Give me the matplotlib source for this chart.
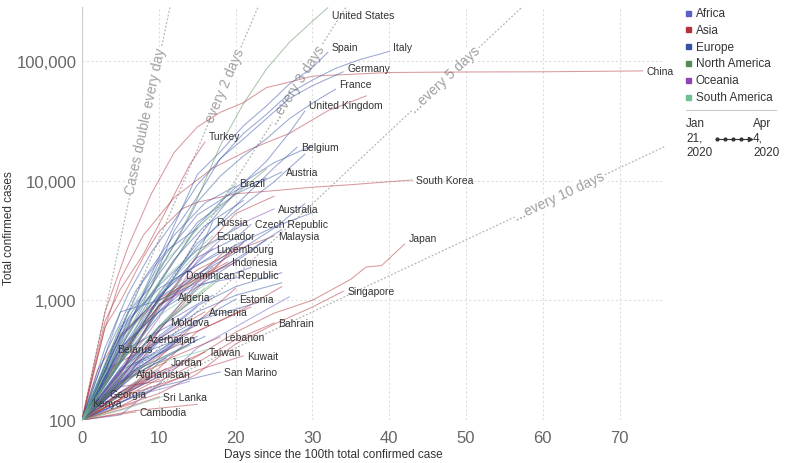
import numpy as np
import matplotlib
matplotlib.use("Agg")
import matplotlib.pyplot as plt
from matplotlib.patches import Rectangle
from matplotlib.lines import Line2D

plt.rcParams['font.family'] = ['Liberation Sans', 'DejaVu Sans']

continents = ["Africa", "Asia", "Europe", "North America", "Oceania", "South America"]
continent_colors = ["#5b5fc7", "#b1343c", "#3552a6", "#5a8a5a", "#8e45b3", "#6fbf92"]

# (label, days since the 100th case, total confirmed cases)
africa = [
    ("Kenya", [0, 1], [100, 133]),
    ("Algeria", [0, 5, 12], [100, 300, 1070]),
    (None, [0, 5, 10, 15, 21], [100, 240, 930, 1350, 1580]),
    (None, [0, 5, 10, 15, 20, 27], [100, 110, 200, 400, 600, 1070]),
    (None, [0, 5, 10, 15], [100, 230, 480, 880]),
    (None, [0, 6, 13], [100, 230, 500]),
    (None, [0, 6, 13], [100, 180, 300]),
    (None, [0, 5, 10], [100, 190, 550]),
    (None, [0, 7, 14], [100, 160, 210]),
    (None, [0, 4, 8], [100, 150, 205]),
    (None, [0, 5, 10], [100, 170, 260]),
    (None, [0, 3, 7], [100, 140, 210]),
    (None, [0, 4, 9], [100, 130, 190]),
    (None, [0, 3, 6], [100, 120, 150]),
]

asia = [
    ("China", [0, 3, 6, 9, 12, 15, 18, 21, 24, 27, 30, 40, 50, 60, 73],
     [100, 800, 2800, 7700, 17200, 28000, 37200, 44700, 59800, 66500, 74600, 80000, 80800, 81100, 82500]),
    ("South Korea", [0, 3, 5, 8, 10, 13, 15, 20, 25, 30, 35, 40, 43],
     [100, 600, 980, 2300, 3740, 5800, 6590, 7760, 8240, 8800, 9240, 9790, 10100]),
    ("Japan", [0, 5, 10, 15, 20, 25, 30, 35, 37, 39, 42],
     [100, 160, 230, 340, 540, 780, 1000, 1500, 1900, 1950, 2950]),
    ("Singapore", [0, 5, 10, 15, 20, 25, 30, 34], [100, 130, 166, 243, 432, 631, 879, 1189]),
    ("Turkey", [0, 3, 5, 8, 11, 14, 16], [100, 670, 1240, 2430, 5700, 13500, 21000]),
    ("Malaysia", [0, 5, 10, 15, 20, 25], [100, 240, 900, 1800, 2600, 3450]),
    ("Indonesia", [0, 5, 10, 15, 19], [100, 370, 890, 1530, 2090]),
    ("Armenia", [0, 5, 10, 16], [100, 200, 480, 800]),
    ("Azerbaijan", [0, 4, 8], [100, 270, 475]),
    ("Georgia", [0, 3], [100, 165]),
    ("Afghanistan", [0, 3, 6.5], [100, 150, 242]),
    ("Jordan", [0, 5, 11], [100, 210, 305]),
    ("Taiwan", [0, 5, 10, 16], [100, 150, 250, 370]),
    ("Kuwait", [0, 5, 10, 15, 21], [100, 130, 190, 260, 343]),
    ("Lebanon", [0, 5, 10, 18], [100, 150, 300, 494]),
    ("Bahrain", [0, 5, 10, 15, 20, 25], [100, 190, 210, 300, 470, 646]),
    ("Sri Lanka", [0, 5, 10], [100, 122, 156]),
    ("Cambodia", [0, 3, 7], [100, 107, 117]),
    (None, [0, 3, 5, 8, 12, 17, 22, 27, 32, 37],
     [100, 590, 1500, 3500, 7200, 12700, 18400, 24800, 38300, 51000]),
    (None, [0, 5, 10, 15, 20, 25], [100, 250, 880, 2370, 5300, 7400]),
    (None, [0, 3, 10, 15, 20, 26], [100, 260, 460, 550, 780, 1300]),
    (None, [0, 5, 10, 15, 20], [100, 340, 900, 1450, 2180]),
    (None, [0, 5, 10, 15, 20], [100, 150, 330, 660, 1260]),
    (None, [0, 5, 10, 15, 21], [100, 220, 550, 1420, 3020]),
    (None, [0, 5, 10, 15, 20], [100, 220, 560, 1250, 2900]),
    (None, [0, 5, 10, 15, 19], [100, 500, 990, 1600, 2700]),
    (None, [0, 5, 10, 15, 20], [100, 320, 1040, 1520, 2070]),
    (None, [0, 5, 10, 15, 22], [100, 170, 270, 550, 880]),
    (None, [0, 7, 14], [100, 170, 240]),
    (None, [0, 6, 13], [100, 230, 460]),
    (None, [0, 4, 9], [100, 150, 230]),
    (None, [0, 5, 11], [100, 170, 270]),
    (None, [0, 5, 10], [100, 150, 220]),
    (None, [0, 7], [100, 140]),
    (None, [0, 7, 15], [100, 120, 135]),
    (None, [0, 2, 5, 9], [100, 260, 520, 900]),
]

europe = [
    ("Italy", [0, 3, 6, 9, 12, 15, 18, 21, 24, 27, 30, 33, 36, 40],
     [100, 400, 1130, 2500, 4600, 9170, 15100, 24700, 35700, 53600, 69200, 86500, 101700, 120000]),
    ("Spain", [0, 3, 6, 9, 12, 15, 18, 21, 24, 27, 30, 32],
     [100, 230, 590, 1640, 4230, 11200, 17400, 28600, 42000, 64000, 87900, 118000]),
    ("Germany", [0, 3, 6, 9, 12, 15, 18, 21, 24, 27, 30, 34],
     [100, 260, 800, 1300, 3800, 7300, 15300, 22200, 32900, 48600, 62100, 81000]),
    ("France", [0, 3, 6, 9, 12, 15, 18, 21, 24, 27, 30, 33],
     [100, 210, 710, 1410, 2880, 6600, 10900, 16000, 22300, 32900, 44500, 58000]),
    ("United Kingdom", [0, 3, 6, 9, 12, 15, 18, 21, 24, 27, 29],
     [100, 210, 460, 800, 1540, 3270, 5680, 9530, 14500, 25100, 38000]),
    ("Belgium", [0, 5, 10, 15, 20, 25, 28], [100, 310, 1060, 2800, 6200, 12800, 19000]),
    ("Austria", [0, 5, 10, 15, 20, 26], [100, 500, 1650, 4470, 7700, 11800]),
    ("Russia", [0, 5, 10, 15, 17], [100, 250, 840, 2340, 4500]),
    ("Czech Republic", [0, 5, 10, 15, 20, 22], [100, 300, 1050, 2280, 3300, 4300]),
    ("Luxembourg", [0, 5, 10, 14, 17], [100, 480, 1100, 1800, 2700]),
    ("Estonia", [0, 5, 10, 15, 20], [100, 260, 370, 670, 1020]),
    ("Moldova", [0, 5, 11], [100, 260, 660]),
    ("Belarus", [0, 2, 4], [100, 150, 390]),
    ("San Marino", [0, 5, 10, 18], [100, 140, 190, 252]),
    (None, [0, 5, 10, 15, 20, 25, 29], [100, 380, 1140, 2990, 5560, 9760, 16600]),
    (None, [0, 5, 10, 15, 20, 25, 30], [100, 400, 1360, 4200, 8800, 14100, 19600]),
    (None, [0, 5, 10, 15, 20, 25, 29], [100, 500, 1060, 1640, 2500, 4000, 6400]),
    (None, [0, 5, 10, 15, 20, 25, 30], [100, 600, 1250, 1960, 2900, 4100, 5400]),
    (None, [0, 5, 10, 15, 20, 26], [100, 800, 1000, 1400, 2200, 3900]),
    (None, [0, 5, 10, 15, 20, 24], [100, 450, 2060, 5170, 8250, 10500]),
    (None, [0, 5, 10, 15, 21], [100, 560, 1330, 2620, 4270]),
    (None, [0, 5, 10, 15, 22], [100, 360, 900, 1640, 3380]),
    (None, [0, 5, 10, 15, 20, 24], [100, 230, 600, 1300, 2100, 3200]),
    (None, [0, 5, 10, 15, 22], [100, 400, 800, 1300, 1880]),
    (None, [0, 5, 10, 15, 20, 26], [100, 230, 500, 900, 1300, 1700]),
    (None, [0, 5, 10, 15, 20, 26], [100, 200, 470, 800, 1100, 1400]),
    (None, [0, 5, 10, 15, 23], [100, 270, 450, 680, 960]),
    (None, [0, 5, 10, 17], [100, 250, 600, 1100]),
    (None, [0, 5, 10, 17], [100, 300, 800, 1900]),
    (None, [0, 5, 10, 15], [100, 190, 450, 620]),
    (None, [0, 5, 10, 13], [100, 400, 800, 1300]),
    (None, [0, 7, 14], [100, 300, 530]),
    (None, [0, 7, 15], [100, 290, 500]),
    (None, [0, 7, 15], [100, 240, 470]),
    (None, [0, 6, 13], [100, 400, 700]),
    (None, [0, 8, 16], [100, 280, 500]),
    (None, [0, 6, 13], [100, 240, 480]),
    (None, [0, 5, 11], [100, 210, 330]),
    (None, [0, 6, 13], [100, 330, 480]),
    (None, [0, 6, 12], [100, 240, 430]),
    (None, [0, 5, 10], [100, 160, 230]),
    (None, [0, 4, 8, 12, 16, 20], [100, 400, 1500, 3500, 6500, 9000]),
    (None, [0, 4, 8, 12, 16, 21], [100, 300, 900, 2200, 4200, 6800]),
    (None, [0, 3, 7, 11, 15], [100, 350, 1200, 2600, 4000]),
    (None, [0, 4, 8, 12, 18], [100, 250, 700, 1500, 2600]),
]

north_america = [
    ("United States", [0, 3, 6, 9, 12, 15, 18, 21, 24, 27, 30, 32],
     [100, 250, 540, 1300, 2950, 7000, 19600, 43700, 85300, 143000, 214000, 278000]),
    ("Dominican Republic", [0, 5, 10, 13], [100, 310, 900, 1500]),
    (None, [0, 5, 10, 15, 20, 24], [100, 320, 1380, 4040, 7700, 12500]),
    (None, [0, 5, 10, 18], [100, 250, 600, 1510]),
    (None, [0, 5, 10, 16], [100, 340, 990, 1670]),
    (None, [0, 7, 14], [100, 260, 420]),
    (None, [0, 4, 9], [100, 180, 290]),
    (None, [0, 5], [100, 220]),
]

oceania = [
    ("Australia", [0, 5, 10, 15, 20, 25], [100, 250, 710, 2140, 4160, 5800]),
    (None, [0, 5, 10, 14], [100, 260, 590, 950]),
]

south_america = [
    ("Brazil", [0, 5, 10, 15, 20], [100, 620, 1890, 3900, 9500]),
    ("Ecuador", [0, 5, 10, 17], [100, 530, 1400, 3450]),
    (None, [0, 5, 10, 15, 20], [100, 430, 1140, 2450, 4050]),
    (None, [0, 5, 10, 18], [100, 320, 590, 1590]),
    (None, [0, 5, 10, 16], [100, 240, 610, 1270]),
    (None, [0, 5, 10, 16], [100, 300, 740, 1350]),
    (None, [0, 5, 10, 17], [100, 160, 300, 400]),
    (None, [0, 5, 11], [100, 120, 160]),
    (None, [0, 5], [100, 130]),
]

groups = [africa, asia, europe, north_america, oceania, south_america]

# label nudges in pixels (dx, dy up)
label_nudge = {"United States": (0, -7), "Spain": (0, 5), "Italy": (0, 4), "Germany": (0, 4),
               "France": (0, 5), "United Kingdom": (0, 6), "Turkey": (0, 6),
               "Dominican Republic": (0, 4), "Japan": (0, 6), "Kenya": (-2, 2)}

doubling_days = [1, 2, 3, 5, 10]
doubling_labels = ["Cases double every day", "every 2 days", "...every 3 days",
                   "...every 5 days", "...every 10 days"]
doubling_label_day = [8.3, 18.6, 28.0, 47.3, 62.2]

x_ticks = [0, 10, 20, 30, 40, 50, 60, 70]
y_ticks = [100, 1000, 10000, 100000]
y_tick_labels = ["100", "1,000", "10,000", "100,000"]

W, H = 787, 464
fig = plt.figure(figsize=(W / 100, H / 100), dpi=100)
ax_l, ax_r, ax_t, ax_b = 82, 665, 8, 421
ax = fig.add_axes([ax_l / W, 1 - ax_b / H, (ax_r - ax_l) / W, (ax_b - ax_t) / H])
ax.set_yscale("log")
x_max, y_max = 75.9, 2.82e5
ax.set_xlim(0, x_max)
ax.set_ylim(100, y_max)

for s in ["top", "right", "bottom"]:
    ax.spines[s].set_visible(False)
ax.spines["left"].set_color("#cccccc")
ax.set_xticks(x_ticks)
ax.set_yticks(y_ticks)
ax.set_yticklabels(y_tick_labels)
ax.yaxis.set_minor_locator(matplotlib.ticker.NullLocator())
ax.tick_params(length=0, labelsize=12, labelcolor="#666666")
ax.tick_params(axis="y", pad=4)
ax.tick_params(axis="x", pad=7)
ax.grid(True, linestyle=(0, (2, 2)), color="#dddddd", linewidth=0.8)
ax.set_axisbelow(True)

# doubling reference lines
px_w = ax_r - ax_l
px_h = ax_b - ax_t
decades = np.log10(y_max / 100)
for T, lab, d in zip(doubling_days, doubling_labels, doubling_label_day):
    ax.plot([0, x_max], [100, 100 * 2 ** (x_max / T)], color="#b5b5b5",
            linestyle=(0, (1.5, 1.5)), linewidth=0.9, zorder=1)
    slope = (np.log10(2) / T * px_h / decades) / (px_w / x_max)
    ang = np.degrees(np.arctan(slope))
    ax.text(d, 100 * 2 ** (d / T), lab, rotation=ang, rotation_mode="anchor",
            ha="center", va="center", fontsize=10, color="#a0a0a0", zorder=2,
            bbox=dict(facecolor="white", edgecolor="none", pad=0.5))

# country lines
for grp, col in zip(groups, continent_colors):
    for name, days, vals in grp:
        ax.plot(days, vals, color=col, linewidth=0.75, alpha=0.5, zorder=3)
        if name:
            dx, dy = label_nudge.get(name, (0, 0))
            ax.annotate(name, (days[-1], vals[-1]), xytext=(4 + dx, dy),
                        textcoords="offset pixels", va="center", ha="left",
                        fontsize=7.5, color="#333333", zorder=5,
                        annotation_clip=False)

ax.set_xlabel("Days since the 100th total confirmed case", fontsize=8.5, color="#333333", va="center")
ax.xaxis.set_label_coords((333 - ax_l) / px_w, -(455 - ax_b) / px_h)
ax.set_ylabel("Total confirmed cases", fontsize=8.5, color="#333333", va="center")
ax.yaxis.set_label_coords(-(ax_l - 9) / px_w, (ax_b - 228) / px_h)

# legend
for i, (name, col) in enumerate(zip(continents, continent_colors)):
    yc = 14 + i * 16.8
    fig.patches.append(Rectangle((685.5 / W, 1 - (yc + 2.5) / H), 5 / W, 5 / H,
                                 transform=fig.transFigure, color=col))
    fig.text(696 / W, 1 - yc / H, name, fontsize=8.5, color="#333333", va="center")

fig.add_artist(Line2D([686 / W, 776 / W], [1 - 111 / H, 1 - 111 / H], color="#cccccc", linewidth=0.8))
fig.text(686 / W, 1 - 118 / H, "Jan\n21,\n2020", fontsize=8.5, color="#333333", va="top", linespacing=1.3)
fig.text(753 / W, 1 - 118 / H, "Apr\n4,\n2020", fontsize=8.5, color="#333333", va="top", linespacing=1.3)
tl_y = 1 - 140 / H
fig.add_artist(Line2D([716 / W, 749 / W], [tl_y, tl_y], color="#333333", linewidth=0.8))
for px in [717, 725, 733, 741]:
    fig.add_artist(Line2D([px / W], [tl_y], marker="o", markersize=2, color="#333333"))
fig.add_artist(Line2D([750 / W], [tl_y], marker=">", markersize=3, color="#333333"))

fig.savefig("out.png", dpi=100)
